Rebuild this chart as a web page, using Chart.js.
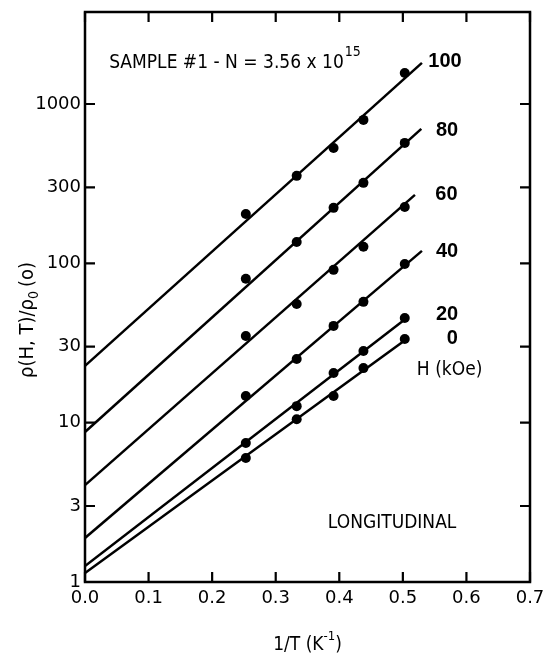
<!DOCTYPE html>
<html>
<head>
<meta charset="utf-8">
<script src="https://cdn.jsdelivr.net/npm/chart.js@4.4.0/dist/chart.umd.min.js"></script>
<style>
  body { margin: 0; background: #fff; }
  #wrap { width: 545px; height: 656px; position: relative; }
</style>
</head>
<body>
<div id="wrap"><canvas id="chart"></canvas></div>
<script>
// 1/T values (K^-1) where the points were measured
var invT = [0.253, 0.333, 0.391, 0.438, 0.503];

// field labels (kOe)
var fields = ['100', '80', '60', '40', '20', '0'];

// rho(H,T)/rho0(0), one array per field
var rho100 = [204, 354, 530, 795, 1567];
var rho80 = [80, 136, 223, 320, 570];
var rho60 = [35, 55.6, 91, 127, 226];
var rho40 = [14.7, 25.1, 40.5, 57.3, 99];
var rho20 = [7.46, 12.7, 20.5, 28.2, 45.4];
var rho0 = [6.0, 10.5, 14.7, 22, 33.5];

// fitted straight lines: value at 1/T = 0 and the end point
var fitStart = [22.7, 8.74, 4.06, 1.89, 1.26, 1.14];
var fitEndX = [0.530, 0.529, 0.519, 0.530, 0.506, 0.506];
var fitEndY = [1811, 698, 269, 119.7, 45.4, 33.5];

// axis ticks
var xTicks = [0, 0.1, 0.2, 0.3, 0.4, 0.5, 0.6, 0.7];
var yTicks = [1, 3, 10, 30, 100, 300, 1000];

var allRho = [rho100, rho80, rho60, rho40, rho20, rho0];

var datasets = [];
allRho.forEach(function (vals, i) {
  datasets.push({
    type: 'line',
    label: fields[i] + ' fit',
    data: [{x: 0, y: fitStart[i]}, {x: fitEndX[i], y: fitEndY[i]}],
    borderColor: '#000',
    borderWidth: 2.5,
    pointRadius: 0,
    fill: false,
    tension: 0
  });
  datasets.push({
    type: 'scatter',
    label: fields[i] + ' kOe',
    data: invT.map(function (t, j) { return {x: t, y: vals[j]}; }),
    backgroundColor: '#000',
    borderWidth: 0,
    pointRadius: 5
  });
});

var SANS = '"DejaVu Sans Condensed", "DejaVu Sans", sans-serif';
var NARROW_BOLD = 'bold 20px "Liberation Sans Narrow", sans-serif';

// text placed in data coordinates
function putText(ctx, chart, str, xv, yv, font) {
  var px = chart.scales.x.getPixelForValue(xv);
  var py = chart.scales.y.getPixelForValue(yv);
  ctx.font = font;
  ctx.textAlign = 'left';
  ctx.textBaseline = 'middle';
  ctx.fillText(str, px, py);
  return {x: px, y: py, w: ctx.measureText(str).width};
}

var framePlugin = {
  id: 'frame',
  afterDraw: function (chart) {
    var ctx = chart.ctx;
    var a = chart.chartArea;
    var xs = chart.scales.x, ys = chart.scales.y;
    ctx.save();
    ctx.fillStyle = '#000';
    ctx.strokeStyle = '#000';
    ctx.lineWidth = 2.5;
    ctx.strokeRect(a.left, a.top, a.right - a.left, a.bottom - a.top);

    // inward ticks on all four sides
    ctx.lineWidth = 2.2;
    ctx.beginPath();
    xTicks.forEach(function (v) {
      var p = xs.getPixelForValue(v);
      ctx.moveTo(p, a.bottom); ctx.lineTo(p, a.bottom - 10);
      ctx.moveTo(p, a.top); ctx.lineTo(p, a.top + 10);
    });
    yTicks.forEach(function (v) {
      var p = ys.getPixelForValue(v);
      ctx.moveTo(a.left, p); ctx.lineTo(a.left + 10, p);
      ctx.moveTo(a.right, p); ctx.lineTo(a.right - 10, p);
    });
    ctx.stroke();

    // annotations
    var s = putText(ctx, chart, 'SAMPLE #1 - N = 3.56 x 10', 0.038, 1815, '19px ' + SANS);
    ctx.font = '14px ' + SANS;
    ctx.fillText('15', s.x + s.w + 1, s.y - 10);

    var labX = [0.540, 0.552, 0.551, 0.552, 0.552, 0.569];
    var labY = [1837, 687, 269, 118, 48, 34];
    fields.forEach(function (f, i) {
      putText(ctx, chart, f, labX[i], labY[i], NARROW_BOLD);
    });
    putText(ctx, chart, 'H (kOe)', 0.522, 21.4, '19px ' + SANS);
    putText(ctx, chart, 'LONGITUDINAL', 0.382, 2.35, '19px ' + SANS);

    // x axis title with superscript
    ctx.font = '19px ' + SANS;
    ctx.textBaseline = 'alphabetic';
    var t1 = '1/T (K', t2 = '-1', t3 = ')';
    var w1 = ctx.measureText(t1).width;
    ctx.font = '13px ' + SANS;
    var w2 = ctx.measureText(t2).width;
    ctx.font = '19px ' + SANS;
    var w3 = ctx.measureText(t3).width;
    var cx = (a.left + a.right) / 2;
    var x0 = cx - (w1 + w2 + w3) / 2;
    var by = 650;
    ctx.fillText(t1, x0, by);
    ctx.font = '13px ' + SANS;
    ctx.fillText(t2, x0 + w1, by - 10);
    ctx.font = '19px ' + SANS;
    ctx.fillText(t3, x0 + w1 + w2, by);

    // y axis title with subscript, rotated
    ctx.save();
    ctx.translate(28, 320);
    ctx.rotate(-Math.PI / 2);
    ctx.textBaseline = 'middle';
    var p1 = '\u03c1(H, T)/\u03c1', p2 = '0', p3 = '(o)';
    ctx.font = '20px ' + SANS;
    var q1 = ctx.measureText(p1).width;
    ctx.font = '14px ' + SANS;
    var q2 = ctx.measureText(p2).width;
    ctx.font = '20px ' + SANS;
    var q3 = ctx.measureText(p3).width;
    var sx = -(q1 + q2 + q3 + 4) / 2;
    ctx.fillText(p1, sx, 0);
    ctx.font = '14px ' + SANS;
    ctx.fillText(p2, sx + q1, 6);
    ctx.font = '20px ' + SANS;
    ctx.fillText(p3, sx + q1 + q2 + 4, 0);
    ctx.restore();

    ctx.restore();
  }
};

var ctx = document.getElementById('chart').getContext('2d');
var myChart = new Chart(ctx, {
  type: 'scatter',
  data: { datasets: datasets },
  options: {
    responsive: true,
    maintainAspectRatio: false,
    devicePixelRatio: 1,
    animation: false,
    layout: { padding: { top: 12, right: 15, left: 0, bottom: 0 } },
    plugins: { legend: { display: false }, tooltip: { enabled: false } },
    scales: {
      x: {
        type: 'linear',
        min: 0,
        max: 0.7,
        bounds: 'data',
        border: { display: false },
        grid: { display: false, drawTicks: false },
        afterBuildTicks: function (scale) {
          scale.ticks = xTicks.map(function (v) { return {value: v}; });
        },
        afterFit: function (scale) {
          scale.height = 74;
          // labels may hang past the plot edge, no extra room needed
          scale.paddingLeft = 0;
          scale.paddingRight = 0;
        },
        ticks: {
          color: '#000',
          padding: 6,
          maxRotation: 0,
          font: { family: 'DejaVu Sans', size: 18 },
          callback: function (v) { return v.toFixed(1); }
        }
      },
      y: {
        type: 'logarithmic',
        min: 1,
        max: 3780,
        border: { display: false },
        grid: { display: false, drawTicks: false },
        afterBuildTicks: function (scale) {
          scale.ticks = yTicks.map(function (v) { return {value: v}; });
        },
        afterFit: function (scale) {
          scale.width = 85;
          scale.paddingTop = 0;
          scale.paddingBottom = 0;
        },
        ticks: {
          color: '#000',
          padding: 4,
          font: { family: 'DejaVu Sans', size: 18 },
          callback: function (v) { return String(v); }
        }
      }
    }
  },
  plugins: [framePlugin]
});
</script>
</body>
</html>
